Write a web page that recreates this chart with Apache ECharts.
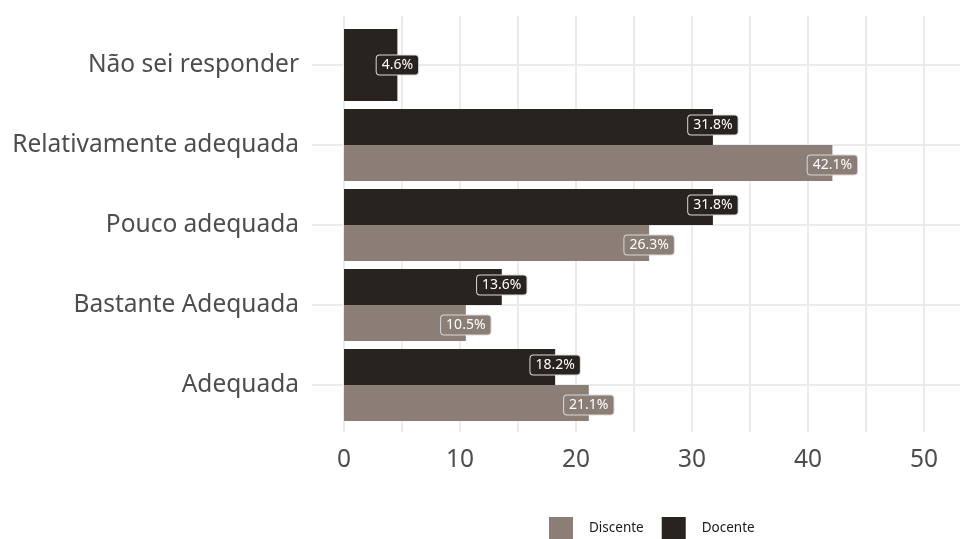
<!DOCTYPE html>
<html>
<head>
<meta charset="utf-8">
<script src="https://cdn.jsdelivr.net/npm/echarts@6/dist/echarts.min.js"></script>
<style>
html,body{margin:0;padding:0;background:#fff;}
#chart{width:965px;height:539px;}
</style>
</head>
<body>
<div id="chart"></div>
<script>
const categories = ['Adequada', 'Bastante Adequada', 'Pouco adequada', 'Relativamente adequada', 'Não sei responder'];
const discente = [21.1, 10.5, 26.3, 42.1, null];
const docente = [18.2, 13.6, 31.8, 31.8, null];
const docenteSolo = [null, null, null, null, 4.6];
const xTickLabels = [0, 10, 20, 30, 40, 50];

const colDiscente = '#8b7e76';
const colDocente = '#28231f';
const FONT = 'Noto Sans';
const X_MIN = -2.76, X_MAX = 53.1;

function labelCfg(color, dy) {
  return {
    show: true,
    position: ['100%', '50%'],
    align: 'center',
    verticalAlign: 'middle',
    offset: [0, dy],
    formatter: p => p.value == null ? '' : p.value.toFixed(1) + '%',
    color: '#ffffff',
    fontFamily: FONT,
    fontSize: 14,
    backgroundColor: color,
    borderColor: '#d9d9d9',
    borderWidth: 1,
    borderRadius: 3,
    padding: [3, 5, 2, 5]
  };
}

const gridLine = { color: '#ebebeb', width: 2 };

const chart = echarts.init(document.getElementById('chart'));
chart.setOption({
  animation: false,
  textStyle: { fontFamily: FONT },
  grid: [
    { left: 312, right: 5, top: 25, bottom: 114, containLabel: false },
    { left: 312, right: 5, top: 16, bottom: 107, containLabel: false }
  ],
  legend: {
    data: ['Discente', 'Docente'],
    left: 544, top: 512,
    itemWidth: 24, itemHeight: 22, itemGap: 18,
    icon: 'rect',
    textStyle: { fontFamily: FONT, fontSize: 13.5, color: '#1a1a1a', padding: [0, 0, 0, 11] }
  },
  xAxis: [
    {
      type: 'value', gridIndex: 0,
      min: X_MIN, max: X_MAX, splitNumber: 11,
      axisLine: { show: false }, axisTick: { show: false },
      axisLabel: { show: false },
      splitLine: { show: false }
    },
    {
      type: 'value', gridIndex: 1,
      min: X_MIN, max: X_MAX, splitNumber: 11,
      axisLine: { show: false }, axisTick: { show: false },
      axisLabel: {
        showMinLabel: false, showMaxLabel: false,
        interval: 0,
        formatter: v => xTickLabels.indexOf(v) >= 0 ? String(v) : '',
        fontFamily: FONT, fontSize: 24.5, color: '#4d4d4d', margin: 16
      },
      splitLine: { show: true, showMinLine: false, showMaxLine: false, lineStyle: gridLine }
    }
  ],
  yAxis: [
    {
      type: 'category', data: categories, gridIndex: 0,
      axisLine: { show: false }, axisTick: { show: false },
      axisLabel: { fontFamily: FONT, fontSize: 24.5, color: '#4d4d4d', margin: 13 },
      splitLine: { show: false }
    },
    {
      type: 'category', data: categories, gridIndex: 0, show: false
    },
    {
      type: 'value', gridIndex: 0, min: -0.5, max: 4.5, splitNumber: 5, show: true,
      axisLine: { show: false }, axisTick: { show: false }, axisLabel: { show: false },
      splitLine: { show: true, showMinLine: false, showMaxLine: false, lineStyle: gridLine }
    },
    {
      type: 'value', gridIndex: 1, show: false, min: 0, max: 1
    }
  ],
  series: [
    {
      name: 'Docente', type: 'bar', xAxisIndex: 0, yAxisIndex: 0, data: docente,
      itemStyle: { color: colDocente },
      barCategoryGap: '10%', barGap: '0%',
      label: labelCfg(colDocente, -2), z: 3
    },
    {
      name: 'Discente', type: 'bar', xAxisIndex: 0, yAxisIndex: 0, data: discente,
      itemStyle: { color: colDiscente },
      barCategoryGap: '10%', barGap: '0%',
      label: labelCfg(colDiscente, 2), z: 3
    },
    {
      name: 'Docente', type: 'bar', xAxisIndex: 0, yAxisIndex: 1, data: docenteSolo,
      itemStyle: { color: colDocente },
      barCategoryGap: '10%',
      label: labelCfg(colDocente, 0), z: 3
    }
  ]
});
</script>
</body>
</html>
